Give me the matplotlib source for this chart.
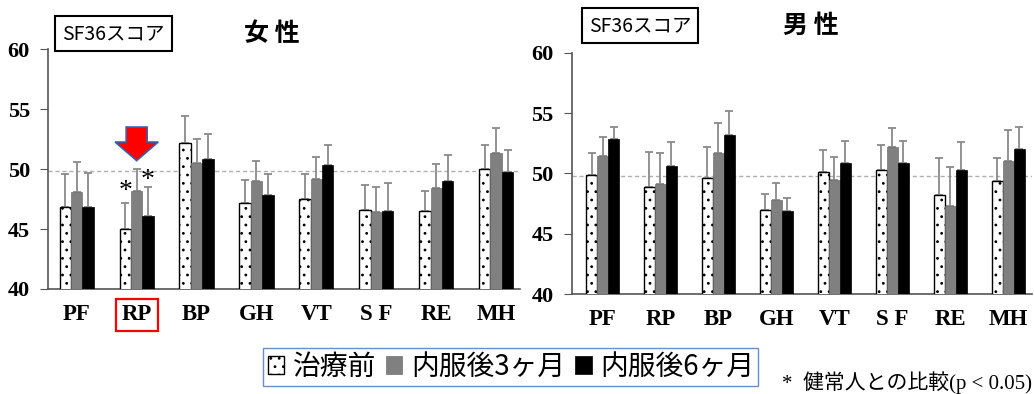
import matplotlib.pyplot as plt
import numpy as np
from matplotlib.patches import Polygon

plt.rcParams['font.family'] = ['Noto Sans CJK JP', 'DejaVu Sans']
plt.rcParams['hatch.linewidth'] = 0.8

categories = ['PF', 'RP', 'BP', 'GH', 'VT', 'S F', 'RE', 'MH']
series_names = ['治療前', '内服後3ヶ月', '内服後6ヶ月']

# female
f_before = [46.8, 45.0, 52.2, 47.2, 47.5, 46.6, 46.5, 50.0]
f_3m = [48.1, 48.2, 50.5, 49.0, 49.2, 46.4, 48.4, 51.35]
f_6m = [46.8, 46.1, 50.8, 47.8, 50.35, 46.5, 49.0, 49.75]
f_before_err = [2.8, 2.2, 2.2, 1.9, 2.1, 2.1, 1.7, 2.0]
f_3m_err = [2.45, 1.8, 2.0, 1.7, 1.8, 2.1, 2.0, 2.05]
f_6m_err = [2.9, 2.4, 2.1, 1.8, 1.65, 2.3, 2.15, 1.85]

# male
m_before = [49.9, 48.9, 49.6, 47.0, 50.1, 50.25, 48.2, 49.4]
m_3m = [51.45, 49.1, 51.7, 47.8, 49.5, 52.2, 47.3, 51.0]
m_6m = [52.9, 50.6, 53.2, 46.9, 50.9, 50.9, 50.3, 52.05]
m_before_err = [1.8, 2.9, 2.6, 1.3, 1.85, 2.15, 3.05, 1.9]
m_3m_err = [1.55, 2.6, 2.5, 1.4, 1.9, 1.6, 3.2, 2.6]
m_6m_err = [1.0, 2.0, 2.0, 1.1, 1.8, 1.8, 2.3, 1.85]

f_reference = 49.85
m_reference = 49.8

W = 0.19
serif = 'Liberation Serif'


def panel(ax, vals, errs, ref, xlim):
    x = np.arange(len(categories))
    styles = [dict(color='white', edgecolor='black', hatch='..', linewidth=1.0),
              dict(color='#808080', edgecolor='#707070', linewidth=0.5),
              dict(color='black', edgecolor='black', linewidth=0.5)]
    handles = []
    for i, (v, e, st) in enumerate(zip(vals, errs, styles)):
        xs = x + (i - 1) * W
        b = ax.bar(xs, v, width=W, bottom=0, zorder=3, label=series_names[i], **st)
        handles.append(b)
        ax.errorbar(xs, v, yerr=[np.zeros(len(e)), e], fmt='none', ecolor='#8a8a8a',
                    elinewidth=1.3, capsize=3, capthick=1.3, zorder=2)
    ax.axhline(ref, color='#b0b0b0', linestyle=(0, (3, 2)), linewidth=1.0, zorder=1)
    ax.set_ylim(40, 60)
    ax.set_xlim(*xlim)
    ax.set_yticks([40, 45, 50, 55, 60])
    ax.set_xticks(x)
    ax.set_xticklabels(categories)
    ax.tick_params(axis='x', length=0, pad=11)
    ax.tick_params(axis='y', length=6, direction='out', pad=7, color='#555555')
    for lab in ax.get_xticklabels():
        lab.set_fontfamily(serif)
        lab.set_fontweight('bold')
        lab.set_fontsize(16.5)
    for lab in ax.get_yticklabels():
        lab.set_fontfamily(serif)
        lab.set_fontweight('bold')
        lab.set_fontsize(16)
    for s in ['top', 'right']:
        ax.spines[s].set_visible(False)
    for s in ['left', 'bottom']:
        ax.spines[s].set_color('#555555')
        ax.spines[s].set_linewidth(1.2)
    return handles


fig = plt.figure(figsize=(10.34, 3.94), dpi=100)
ax1 = fig.add_axes([0.0464, 0.2665, 0.4566, 0.609])
ax2 = fig.add_axes([0.553, 0.2538, 0.445, 0.6117])

handles = panel(ax1, [f_before, f_3m, f_6m], [f_before_err, f_3m_err, f_6m_err],
                f_reference, (-0.48, 7.4))
panel(ax2, [m_before, m_3m, m_6m], [m_before_err, m_3m_err, m_6m_err],
      m_reference, (-0.53, 7.41))

# titles
fig.text(0.263, 0.914, '女 性', ha='center', va='center', fontsize=18, fontweight='bold')
fig.text(0.784, 0.935, '男 性', ha='center', va='center', fontsize=18, fontweight='bold')

# boxed labels
box = dict(boxstyle='square,pad=0.35', facecolor='white', edgecolor='black', linewidth=1.5)
fig.text(0.1098, 0.915, 'SF36スコア', ha='center', va='center', fontsize=14, bbox=box)
fig.text(0.619, 0.935, 'SF36スコア', ha='center', va='center', fontsize=14, bbox=box)

# highlight RP
rp = ax1.get_xticklabels()[1]
rp.set_bbox(dict(boxstyle='square,pad=0.25', facecolor='none', edgecolor='red', linewidth=1.6))

# red arrow above RP
arrow = Polygon([(1 - 0.175, 53.5), (1 + 0.175, 53.5), (1 + 0.175, 52.25), (1 + 0.36, 52.25),
                 (1, 50.7), (1 - 0.36, 52.25), (1 - 0.175, 52.25)],
                closed=True, facecolor='red', edgecolor='#3a5fa8', linewidth=1.2, zorder=5)
ax1.add_patch(arrow)

# significance marks
ax1.text(1 - W, 48.1, '*', ha='center', va='center', fontsize=20, family=serif, zorder=6)
ax1.text(1 + W, 49.05, '*', ha='center', va='center', fontsize=20, family=serif, zorder=6)

leg = fig.legend(handles=handles, loc='center', bbox_to_anchor=(0.494, 0.0685), ncol=3,
                 fontsize=20, handlelength=0.6, handleheight=0.6, handletextpad=0.3,
                 columnspacing=0.36, borderpad=0.15, borderaxespad=0, frameon=True,
                 fancybox=False)
leg.get_frame().set_edgecolor('#4472c4')
leg.get_frame().set_linewidth(1.0)

fig.text(0.756, 0.03, '*  健常人との比較(p < 0.05)', ha='left', va='center', fontsize=15,
         family=[serif, 'Noto Sans CJK JP'])

fig.savefig('out.png', dpi=100)
